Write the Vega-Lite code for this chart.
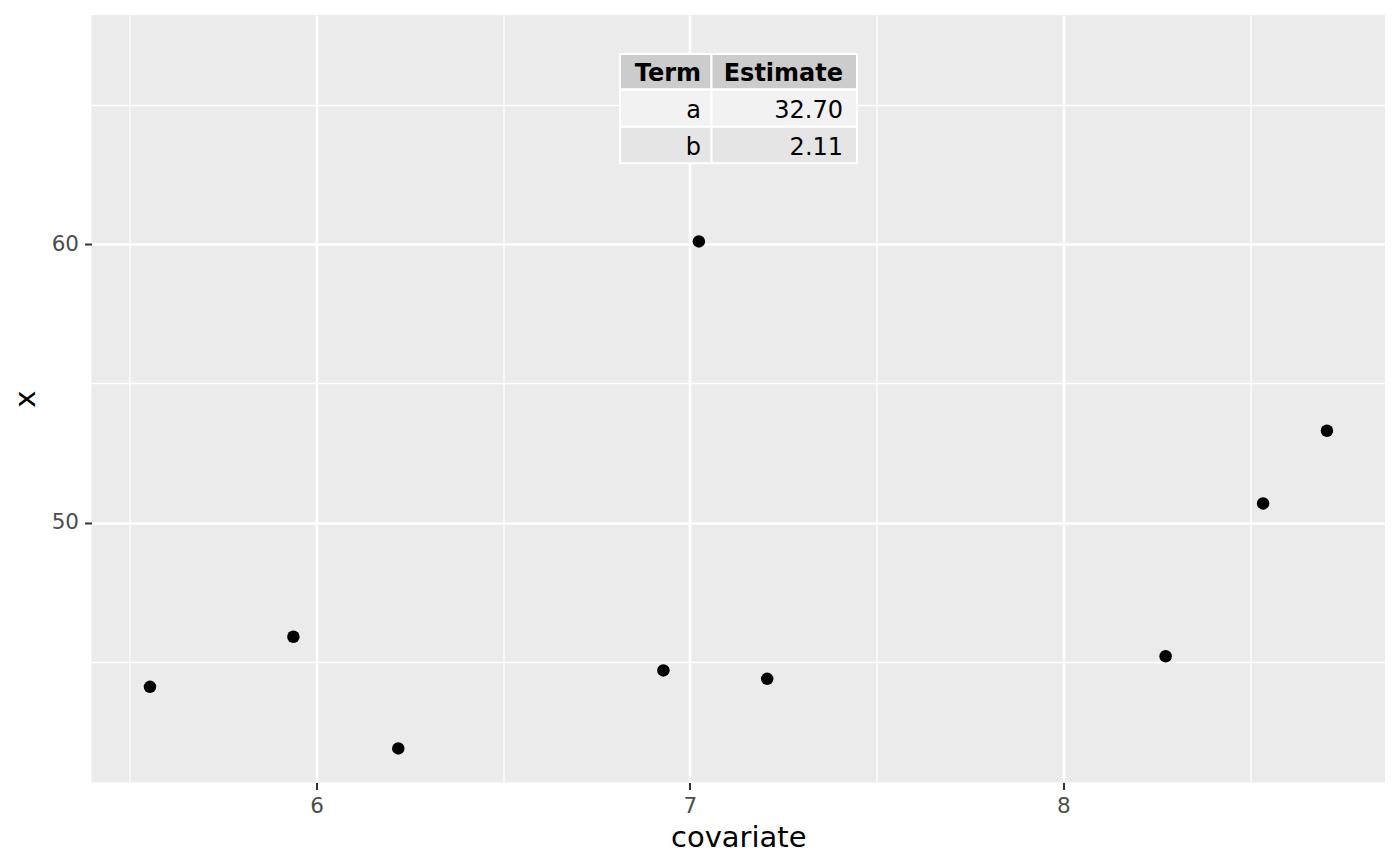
{
  "$schema": "https://vega.github.io/schema/vega-lite/v6.json",
  "width": 1293.5,
  "height": 767.5,
  "autosize": {"type": "none"},
  "padding": {"left": 91.5, "top": 15, "right": 15, "bottom": 83.5},
  "background": "white",
  "config": {
    "font": "DejaVu Sans",
    "view": {"fill": "#EBEBEB", "stroke": null},
    "axis": {
      "domain": false,
      "grid": true,
      "gridColor": "white",
      "tickColor": "#333333",
      "tickWidth": 2,
      "tickSize": 7,
      "labelColor": "#4D4D4D",
      "labelFont": "DejaVu Sans",
      "labelFontSize": 21.5,
      "labelPadding": 6,
      "labelOverlap": false,
      "labelFlush": false,
      "titleFont": "DejaVu Sans",
      "titleFontSize": 29,
      "titleFontWeight": "normal",
      "titleColor": "black"
    }
  },
  "datasets": {
    "obs": [
      {"covariate": 5.554, "x": 44.10},
      {"covariate": 5.938, "x": 45.90},
      {"covariate": 6.219, "x": 41.89},
      {"covariate": 6.929, "x": 44.69},
      {"covariate": 7.024, "x": 60.10},
      {"covariate": 7.207, "x": 44.39},
      {"covariate": 8.274, "x": 45.20},
      {"covariate": 8.535, "x": 50.69},
      {"covariate": 8.706, "x": 53.30}
    ],
    "coef": [
      {"Term": "a", "Estimate": "32.70"},
      {"Term": "b", "Estimate": "2.11"}
    ]
  },
  "layer": [
    {
      "data": {"name": "obs"},
      "mark": {"type": "circle", "size": 156, "color": "black", "opacity": 1},
      "encoding": {
        "x": {
          "field": "covariate",
          "type": "quantitative",
          "scale": {"domain": [5.3974, 8.8615], "nice": false, "zero": false},
          "axis": {
            "title": "covariate",
            "titlePadding": 6,
            "values": [5.5, 6, 6.5, 7, 7.5, 8, 8.5],
            "labelExpr": "datum.value % 1 === 0 ? format(datum.value, 'd') : ''",
            "gridWidth": {"condition": {"test": "datum.value % 1 === 0", "value": 2.6}, "value": 1.3},
            "tickOpacity": {"condition": {"test": "datum.value % 1 === 0", "value": 1}, "value": 0}
          }
        },
        "y": {
          "field": "x",
          "type": "quantitative",
          "scale": {"domain": [40.665, 68.233], "nice": false, "zero": false},
          "axis": {
            "title": "x",
            "titlePadding": 11,
            "values": [45, 50, 55, 60, 65],
            "labelExpr": "datum.value % 10 === 0 ? format(datum.value, 'd') : ''",
            "gridWidth": {"condition": {"test": "datum.value % 10 === 0", "value": 2.6}, "value": 1.3},
            "tickOpacity": {"condition": {"test": "datum.value % 10 === 0", "value": 1}, "value": 0}
          }
        }
      }
    },
    {
      "data": {"values": [{"Term": "Term", "Estimate": "Estimate"}]},
      "layer": [
        {
          "mark": {"type": "rect", "fill": "#CCCCCC", "stroke": "white", "strokeWidth": 2},
          "encoding": {
            "x": {"datum": 6.8128}, "x2": {"datum": 7.0578},
            "y": {"datum": 66.832}, "y2": {"datum": 65.557}
          }
        },
        {
          "mark": {"type": "rect", "fill": "#CCCCCC", "stroke": "white", "strokeWidth": 2},
          "encoding": {
            "x": {"datum": 7.0578}, "x2": {"datum": 7.4475},
            "y": {"datum": 66.832}, "y2": {"datum": 65.557}
          }
        },
        {
          "mark": {"type": "text", "align": "right", "baseline": "alphabetic", "fontSize": 24, "fontWeight": "bold", "color": "black"},
          "encoding": {"x": {"datum": 7.0298}, "y": {"datum": 65.862}, "text": {"field": "Term"}}
        },
        {
          "mark": {"type": "text", "align": "right", "baseline": "alphabetic", "fontSize": 24, "fontWeight": "bold", "color": "black"},
          "encoding": {"x": {"datum": 7.4101}, "y": {"datum": 65.862}, "text": {"field": "Estimate"}}
        }
      ]
    },
    {
      "data": {"name": "coef"},
      "transform": [{"filter": "datum.Term === 'a'"}],
      "layer": [
        {
          "mark": {"type": "rect", "fill": "#F2F2F2", "stroke": "white", "strokeWidth": 2},
          "encoding": {
            "x": {"datum": 6.8128}, "x2": {"datum": 7.0578},
            "y": {"datum": 65.557}, "y2": {"datum": 64.220}
          }
        },
        {
          "mark": {"type": "rect", "fill": "#F2F2F2", "stroke": "white", "strokeWidth": 2},
          "encoding": {
            "x": {"datum": 7.0578}, "x2": {"datum": 7.4475},
            "y": {"datum": 65.557}, "y2": {"datum": 64.220}
          }
        },
        {
          "mark": {"type": "text", "align": "right", "baseline": "alphabetic", "fontSize": 24, "color": "black"},
          "encoding": {"x": {"datum": 7.0298}, "y": {"datum": 64.522}, "text": {"field": "Term"}}
        },
        {
          "mark": {"type": "text", "align": "right", "baseline": "alphabetic", "fontSize": 24, "color": "black"},
          "encoding": {"x": {"datum": 7.4101}, "y": {"datum": 64.522}, "text": {"field": "Estimate"}}
        }
      ]
    },
    {
      "data": {"name": "coef"},
      "transform": [{"filter": "datum.Term === 'b'"}],
      "layer": [
        {
          "mark": {"type": "rect", "fill": "#E5E5E5", "stroke": "white", "strokeWidth": 2},
          "encoding": {
            "x": {"datum": 6.8128}, "x2": {"datum": 7.0578},
            "y": {"datum": 64.220}, "y2": {"datum": 62.906}
          }
        },
        {
          "mark": {"type": "rect", "fill": "#E5E5E5", "stroke": "white", "strokeWidth": 2},
          "encoding": {
            "x": {"datum": 7.0578}, "x2": {"datum": 7.4475},
            "y": {"datum": 64.220}, "y2": {"datum": 62.906}
          }
        },
        {
          "mark": {"type": "text", "align": "right", "baseline": "alphabetic", "fontSize": 24, "color": "black"},
          "encoding": {"x": {"datum": 7.0298}, "y": {"datum": 63.204}, "text": {"field": "Term"}}
        },
        {
          "mark": {"type": "text", "align": "right", "baseline": "alphabetic", "fontSize": 24, "color": "black"},
          "encoding": {"x": {"datum": 7.4101}, "y": {"datum": 63.204}, "text": {"field": "Estimate"}}
        }
      ]
    }
  ]
}
